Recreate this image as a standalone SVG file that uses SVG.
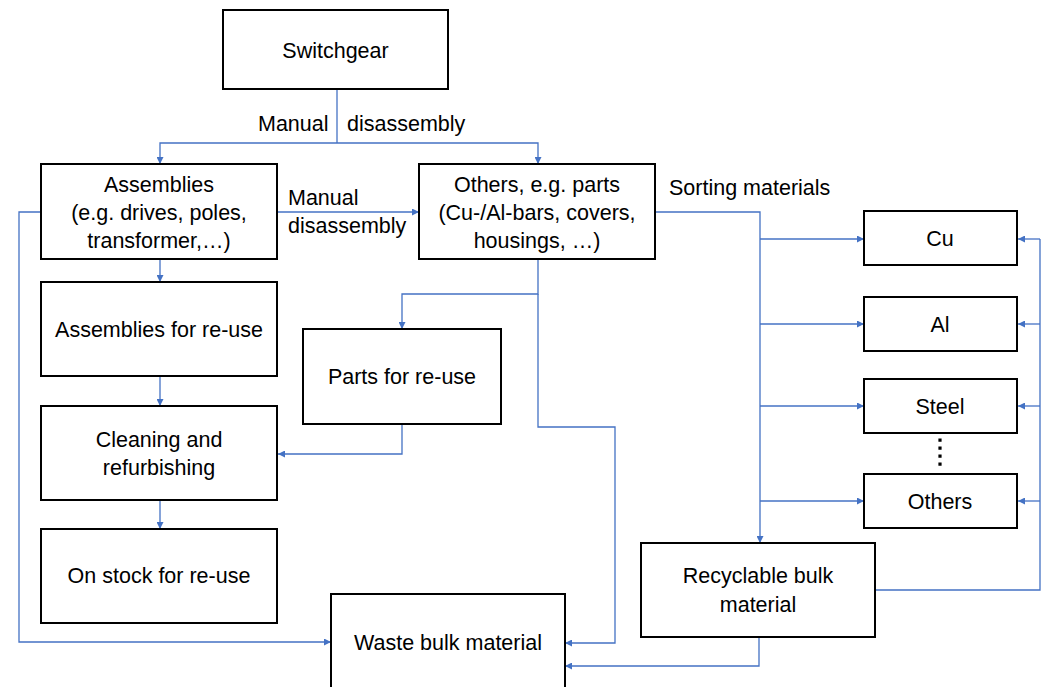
<svg xmlns="http://www.w3.org/2000/svg" width="1045" height="687" viewBox="0 0 1045 687">
<style>
.box{fill:#fff;stroke:#000;stroke-width:2}
.t{font-family:"Liberation Sans",Arial,sans-serif;font-size:21.5px;fill:#000;text-anchor:middle}
.l{font-family:"Liberation Sans",Arial,sans-serif;font-size:21.5px;fill:#000}
.c{fill:none;stroke:#4472C4;stroke-width:1.3}
.a{marker-end:url(#ah)}
</style>
<defs>
<marker id="ah" viewBox="0 0 10 10" refX="10" refY="5" markerWidth="7" markerHeight="7" markerUnits="userSpaceOnUse" orient="auto"><path d="M0,0 L10,5 L0,10 z" fill="#4472C4"/></marker>
</defs>
<rect width="1045" height="687" fill="#fff"/>
<g id="connectors">
<path class="c" d="M337,89 V143"/>
<path class="c a" d="M337,143 H160 V164"/>
<path class="c a" d="M337,143 H538 V164"/>
<path class="c a" d="M277,212 H419"/>
<path class="c a" d="M160,259 V282"/>
<path class="c a" d="M160,376 V406"/>
<path class="c a" d="M160,500 V529"/>
<path class="c a" d="M41,212 H19 V642 H331"/>
<path class="c a" d="M538,259 V294 H402 V329"/>
<path class="c a" d="M538,294 V427 H615 V643 H565"/>
<path class="c a" d="M402,424 V454 H278"/>
<path class="c a" d="M655,212 H760 V543"/>
<path class="c a" d="M760,239 H864"/>
<path class="c a" d="M760,324 H864"/>
<path class="c a" d="M760,406 H864"/>
<path class="c a" d="M760,501 H864"/>
<path class="c" d="M875,590 H1040 V239"/>
<path class="c a" d="M1040,239 H1018"/>
<path class="c a" d="M1040,324 H1018"/>
<path class="c a" d="M1040,406 H1018"/>
<path class="c a" d="M1040,501 H1018"/>
<path class="c a" d="M759,637 V666 H565"/>
</g>
<g id="labels">
<text class="l" x="258" y="131">Manual</text>
<text class="l" x="347" y="131">disassembly</text>
<text class="l" x="288" y="205">Manual</text>
<text class="l" x="288" y="233">disassembly</text>
<text class="l" x="669" y="195">Sorting materials</text>
</g>
<g id="switchgear"><rect class="box" x="223" y="10" width="225" height="79"/><text class="t" x="335.5" y="58">Switchgear</text></g>
<g id="assemblies"><rect class="box" x="41" y="164" width="236" height="95"/><text class="t" x="159" y="192">Assemblies</text><text class="t" x="159" y="220">(e.g. drives, poles,</text><text class="t" x="159" y="248">transformer,…)</text></g>
<g id="others"><rect class="box" x="419" y="164" width="236" height="95"/><text class="t" x="537" y="192">Others, e.g. parts</text><text class="t" x="537" y="220">(Cu-/Al-bars, covers,</text><text class="t" x="537" y="248">housings, …)</text></g>
<g id="assemblies-reuse"><rect class="box" x="41" y="282" width="236" height="94"/><text class="t" x="159" y="337">Assemblies for re-use</text></g>
<g id="parts-reuse"><rect class="box" x="303" y="329" width="198" height="95"/><text class="t" x="402" y="384">Parts for re-use</text></g>
<g id="cleaning"><rect class="box" x="41" y="406" width="236" height="94"/><text class="t" x="159" y="447">Cleaning and</text><text class="t" x="159" y="475">refurbishing</text></g>
<g id="on-stock"><rect class="box" x="41" y="529" width="236" height="94"/><text class="t" x="159" y="583">On stock for re-use</text></g>
<g id="waste"><rect class="box" x="331" y="594" width="234" height="100"/><text class="t" x="448" y="650">Waste bulk material</text></g>
<g id="cu"><rect class="box" x="864" y="211" width="153" height="54"/><text class="t" x="940" y="246">Cu</text></g>
<g id="al"><rect class="box" x="864" y="297" width="153" height="54"/><text class="t" x="940" y="332">Al</text></g>
<g id="steel"><rect class="box" x="864" y="379" width="153" height="54"/><text class="t" x="940" y="414">Steel</text></g>
<g id="dots"><path d="M940,438.5 V466" stroke="#000" stroke-width="3.2" stroke-dasharray="3.2,4.8"/></g>
<g id="others-mat"><rect class="box" x="864" y="474" width="153" height="54"/><text class="t" x="940" y="509">Others</text></g>
<g id="recyclable"><rect class="box" x="641" y="543" width="234" height="94"/><text class="t" x="758" y="583">Recyclable bulk</text><text class="t" x="758" y="612">material</text></g>
</svg>
